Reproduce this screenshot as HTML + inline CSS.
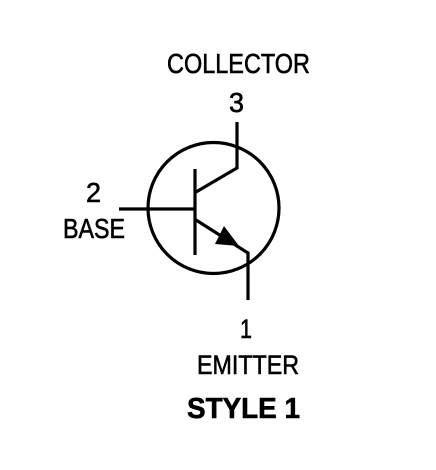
<!DOCTYPE html>
<html><head><meta charset="utf-8"><style>
html,body{margin:0;padding:0;background:#fff;}
svg{display:block;}
text{font-family:"Liberation Sans",sans-serif;fill:#000;stroke:#000;stroke-width:0.6;}
</style></head><body>
<svg width="436" height="470" viewBox="0 0 436 470">
<g stroke="#000" stroke-width="3.2" fill="none" stroke-linecap="butt">
<circle cx="213.5" cy="208" r="65.5"/>
<line x1="119" y1="209" x2="195" y2="209"/>
<line x1="195" y1="169" x2="195" y2="255"/>
<polyline points="196,192 237,168 237,122"/>
<polyline points="196,220 248,253 248,300"/>
</g>
<polygon points="215,244 224,226 239,246" fill="#000"/>
<text x="167" y="73" font-size="28" textLength="143" lengthAdjust="spacingAndGlyphs">COLLECTOR</text>
<text x="229" y="112" font-size="28" textLength="15" lengthAdjust="spacingAndGlyphs">3</text>
<text x="86" y="202" font-size="28" textLength="15" lengthAdjust="spacingAndGlyphs">2</text>
<text x="63" y="238" font-size="28" textLength="62" lengthAdjust="spacingAndGlyphs">BASE</text>
<text x="240" y="338" font-size="27" textLength="12" lengthAdjust="spacingAndGlyphs">1</text>
<text x="197" y="374" font-size="27" textLength="102" lengthAdjust="spacingAndGlyphs">EMITTER</text>
<text x="187" y="418" font-size="29" font-weight="bold" textLength="113" lengthAdjust="spacingAndGlyphs">STYLE 1</text>
</svg>
</body></html>
